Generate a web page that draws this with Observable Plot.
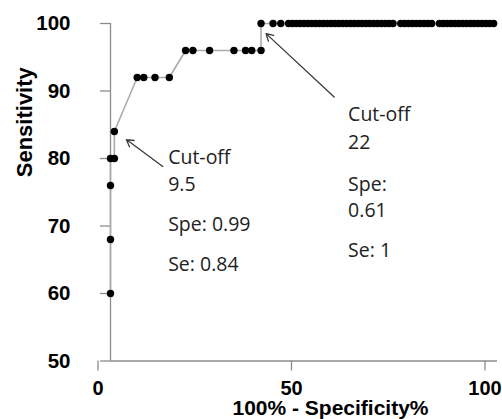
<!DOCTYPE html>
<html><head><meta charset="utf-8">
<script src="https://cdn.jsdelivr.net/npm/d3@7"></script>
<script src="https://cdn.jsdelivr.net/npm/@observablehq/plot@0.6"></script>
<style>html,body{margin:0;padding:0;background:#fff} svg{display:block}</style>
</head><body><div id="chart"></div>
<script>
// 100% - Specificity% (x) and Sensitivity (y) of each ROC point, in order
const fpr = [0, 0, 0, 0, 1, 1,
  6.9, 8.6, 11.5, 15.2,
  19.4, 21.3, 25.6, 31.9, 34.9, 36.5, 38.9,
  38.9, 42, 44, 46, 47, 48, 49, 50, 51, 52, 53, 54, 55, 56, 57, 58, 59, 60,
  61, 62, 63, 64, 65, 66, 67, 68, 69, 70, 71, 72, 73,
  75, 76, 77, 78, 79, 80, 81, 82, 83,
  85, 86, 87, 88, 89, 90, 91, 92, 93, 94, 95, 96, 97, 98, 99];
const sensitivity = [60, 68, 76, 80, 80, 84,
  92, 92, 92, 92,
  96, 96, 96, 96, 96, 96, 96,
  100, 100, 100, 100, 100, 100, 100, 100, 100, 100, 100, 100, 100, 100, 100, 100, 100, 100,
  100, 100, 100, 100, 100, 100, 100, 100, 100, 100, 100, 100, 100,
  100, 100, 100, 100, 100, 100, 100, 100, 100,
  100, 100, 100, 100, 100, 100, 100, 100, 100, 100, 100, 100, 100, 100, 100];

const xTicks = [0, 50, 100];
const yTicks = [50, 60, 70, 80, 90, 100];
const xTitle = "100% - Specificity%";
const yTitle = "Sensitivity";

// annotation labels
const noteText = ["Cut-off", "9.5", "Spe: 0.99", "Se: 0.84", "Cut-off", "22", "Spe:", "0.61", "Se: 1"];
const noteX = [14.9, 14.9, 14.9, 14.9, 61.4, 61.4, 61.4, 61.4, 61.4];
const noteY = [79.2, 75.15, 69.2, 63.3, 85.6, 81.45, 75.25, 71.3, 65.4];

// annotation arrows: tail (x1,y1) -> head (x2,y2)
const arrowX1 = [13.5, 57.8];
const arrowY1 = [78.8, 89.1];
const arrowX2 = [4.1, 40.2];
const arrowY2 = [82.8, 98.5];

const points = fpr.map((x, i) => ({x, y: sensitivity[i]}));
const notes = noteText.map((t, i) => ({t, x: noteX[i], y: noteY[i]}));
const arrows = arrowX1.map((x1, i) => ({x1, y1: arrowY1[i], x2: arrowX2[i], y2: arrowY2[i]}));

const axisColor = "#8c8c8c";

const chart = Plot.plot({
  width: 502,
  height: 419,
  marginLeft: 110,
  marginRight: 5,
  marginTop: 23,
  marginBottom: 58.5,
  style: {fontFamily: "Liberation Sans, Arial, sans-serif", background: "#fff", color: "#000"},
  x: {domain: [0, 100]},
  y: {domain: [50, 100]},
  marks: [
    Plot.ruleX([0], {y1: 50, y2: 100, stroke: axisColor, strokeWidth: 1.3}),
    Plot.ruleY([50], {x1: 0, x2: 100, stroke: axisColor, strokeWidth: 1.3}),
    Plot.axisY({ticks: yTicks, tickSize: 10, tickPadding: 30, stroke: axisColor, strokeWidth: 1.3,
      fill: "#000", fontSize: 20.5, fontWeight: "bold", label: null}),
    Plot.axisX({ticks: xTicks, tickSize: 10, tickPadding: 10, stroke: axisColor, strokeWidth: 1.3,
      fill: "#000", fontSize: 20, fontWeight: "bold", dx: -12.5, label: null}),
    Plot.text([xTitle], {frameAnchor: "bottom", dx: 26.5, dy: 54, lineAnchor: "bottom",
      fontSize: 21, fontWeight: "bold", fill: "#000"}),
    Plot.text([yTitle], {frameAnchor: "left", rotate: -90, dx: -86, dy: -15, lineAnchor: "middle",
      fontSize: 22, fontWeight: "bold", fill: "#000"}),
    Plot.line(points, {x: "x", y: "y", stroke: "#ababab", strokeWidth: 1.6}),
    Plot.dot(points, {x: "x", y: "y", r: 3.7, fill: "#000", stroke: "none"}),
    Plot.arrow(arrows, {x1: "x1", y1: "y1", x2: "x2", y2: "y2", stroke: "#3a3a3a", strokeWidth: 1.3, headLength: 9}),
    Plot.text(notes, {x: "x", y: "y", text: "t", textAnchor: "start", lineAnchor: "bottom",
      fontFamily: "Open Sans", fontSize: 19.5, fill: "#222"})
  ]
});
document.getElementById("chart").appendChild(chart);
</script>
</body></html>
